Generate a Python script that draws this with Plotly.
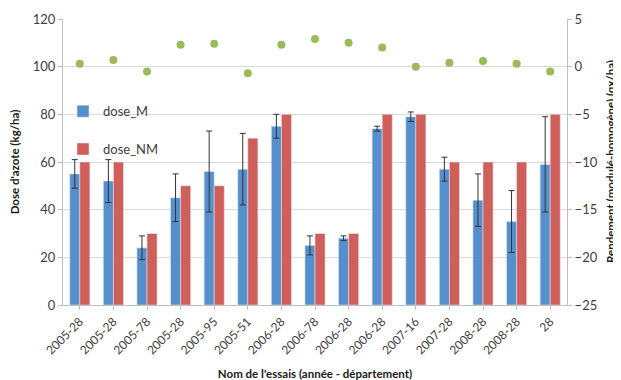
import plotly.graph_objects as go

categories = ["2005-28", "2005-28", "2005-78", "2005-28", "2005-95", "2005-51", "2006-28",
              "2006-78", "2006-28", "2006-28", "2007-16", "2007-28", "2008-28", "2008-28", "28"]
dose_M = [55, 52, 24, 45, 56, 57, 75, 25, 28, 74, 79, 57, 44, 35, 59]
dose_M_err = [6, 9, 5, 10, 17, 15, 5, 4, 1, 1, 2, 5, 11, 13, 20]
dose_NM = [60, 60, 30, 50, 50, 70, 80, 30, 30, 80, 80, 60, 60, 60, 80]
rendement = [0.3, 0.7, -0.5, 2.3, 2.4, -0.7, 2.3, 2.9, 2.5, 2.0, 0.0, 0.4, 0.6, 0.3, -0.5]

x = list(range(len(categories)))

BLUE = "#5690CC"
RED = "#CF5F5A"
GREEN = "#9BBB59"
FONT = "Lato"

fig = go.Figure()
fig.add_trace(go.Bar(
    x=x, y=dose_M, name="dose_M", marker_color=BLUE, legendgroup="a",
    error_y=dict(type="data", array=dose_M_err, color="#333333", thickness=1, width=3),
))
fig.add_trace(go.Bar(
    x=x, y=dose_NM, name="dose_NM", marker_color=RED, legendgroup="b",
))
fig.add_trace(go.Scatter(
    x=x, y=rendement, yaxis="y2", mode="markers", name="rendement", showlegend=False,
    marker=dict(color=GREEN, size=8),
))

# page body has a default 8px margin, so the figure is sized to fit inside the window
fig.update_layout(
    width=613, height=372,
    margin=dict(l=55, r=54, t=11, b=75),
    paper_bgcolor="white", plot_bgcolor="white",
    font=dict(family=FONT, size=12, color="#404040"),
    barmode="group", bargap=0.4, bargroupgap=0,
    showlegend=True,
    legend=dict(x=0.0, y=0.73, xanchor="left", yanchor="top", bgcolor="rgba(0,0,0,0)",
                tracegroupgap=18, font=dict(family=FONT, size=13, color="#404040"),
                itemwidth=30),
    xaxis=dict(
        tickmode="array", tickvals=x, ticktext=categories, tickangle=-45,
        range=[-0.5, len(categories) - 0.5], automargin=False,
        showline=True, linecolor="#BFBFBF", linewidth=1,
        ticks="outside", ticklen=4, tickcolor="#BFBFBF", tickson="boundaries",
        tickfont=dict(size=12, color="#404040"),
        title=dict(text="<b>Nom de l'essais (année - département)</b>",
                   font=dict(size=11.5, color="#202020")),
        showgrid=False,
    ),
    yaxis=dict(
        range=[0, 120], dtick=20, showgrid=True, gridcolor="#D9D9D9", gridwidth=1,
        showline=True, linecolor="#BFBFBF", ticks="outside", ticklen=4, tickcolor="#BFBFBF",
        tickfont=dict(size=13, color="#404040"), zeroline=False, automargin=False,
        title=dict(text="<b>Dose d'azote (kg/ha)</b>",
                   font=dict(size=11.5, color="#202020")),
    ),
    yaxis2=dict(
        range=[-25, 5], dtick=5, overlaying="y", side="right", showgrid=False,
        showline=True, linecolor="#BFBFBF", ticks="outside", ticklen=4, tickcolor="#BFBFBF",
        tickfont=dict(size=13, color="#404040"), zeroline=False, automargin=False,
    ),
    annotations=[dict(
        text="<b>Rendement (modulé-homogène) (qx/ha)</b>",
        xref="paper", yref="paper", x=1, y=0.5, xshift=43,
        xanchor="center", yanchor="middle", textangle=-90, showarrow=False,
        font=dict(family=FONT, size=11.5, color="#202020"),
    )],
)

fig.write_html("out.html")
